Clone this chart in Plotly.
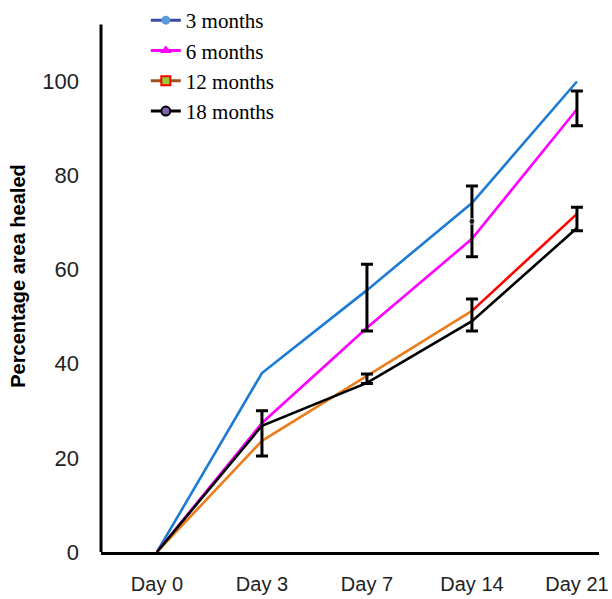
import plotly.graph_objects as go

# Healing time points and mean percentage of wound area healed per age group
days = ["Day 0", "Day 3", "Day 7", "Day 14", "Day 21"]
months_3 = [0, 38.0, 55.6, 74.1, 99.9]
months_6 = [0, 27.4, 47.6, 66.5, 94.0]
months_12 = [0, 23.6, 37.4, 51.2, 71.8]
months_18 = [0, 26.8, 35.9, 49.0, 68.8]

# Error bars (centre and half-width) drawn at the time points
err_day_idx = [1, 2, 2, 3, 3, 4, 4]
err_centre = [25.2, 54.0, 36.8, 70.2, 50.3, 94.2, 70.7]
err_half = [4.8, 7.1, 1.0, 7.5, 3.4, 3.7, 2.5]

y_ticks = [0, 20, 40, 60, 80, 100]
y_axis_top = 112

xi = list(range(len(days)))
fig = go.Figure()

LW = 2.6
fig.add_trace(go.Scatter(x=xi, y=months_3, mode="lines",
                         line=dict(color="#1c7cd5", width=LW), showlegend=False))
fig.add_trace(go.Scatter(x=xi, y=months_6, mode="lines",
                         line=dict(color="#ff00ff", width=LW), showlegend=False))
# 12 months: orange up to Day 14, red for the last interval
fig.add_trace(go.Scatter(x=xi[:4], y=months_12[:4], mode="lines",
                         line=dict(color="#ec7d1c", width=LW), showlegend=False))
fig.add_trace(go.Scatter(x=xi[3:], y=months_12[3:], mode="lines",
                         line=dict(color="#ff0000", width=LW), showlegend=False))
fig.add_trace(go.Scatter(x=xi, y=months_18, mode="lines",
                         line=dict(color="#000000", width=LW), showlegend=False))

# Error bars
fig.add_trace(go.Scatter(
    x=err_day_idx, y=err_centre, mode="markers",
    marker=dict(size=[0, 0, 0, 6, 0, 0, 0], color="black"),
    error_y=dict(type="data", array=err_half, visible=True,
                 color="black", thickness=3, width=6),
    showlegend=False))

# Legend entries
legend_items = [
    ("3 months", "#3a4aa8", dict(symbol="circle", size=9, color="#5b9bd5",
                                 line=dict(width=0))),
    ("6 months", "#ff00ff", dict(symbol="triangle-up", size=10, color="#ff00ff",
                                 line=dict(width=0))),
    ("12 months", "#a0521c", dict(symbol="square", size=9, color="#9acd32",
                                  line=dict(width=2, color="#ff0000"))),
    ("18 months", "#000000", dict(symbol="circle", size=9, color="#8060b0",
                                  line=dict(width=2, color="#000000"))),
]
for name, lc, mk in legend_items:
    fig.add_trace(go.Scatter(x=[None], y=[None], mode="lines+markers", name=name,
                             line=dict(color=lc, width=3), marker=mk))

# Vertical axis line stops a little below the top of the plotting area
fig.add_shape(type="line", xref="paper", yref="y", x0=0, x1=0,
              y0=0, y1=y_axis_top, line=dict(color="black", width=3))

fig.update_layout(
    width=612, height=599,
    margin=dict(l=101, r=13, t=0, b=47),
    paper_bgcolor="white", plot_bgcolor="white",
    showlegend=True,
    legend=dict(x=0.09, y=1.0, xanchor="left", yanchor="top",
                font=dict(family="Liberation Serif", size=21, color="black"),
                bgcolor="rgba(0,0,0,0)", itemwidth=30, tracegroupgap=0),
    xaxis=dict(range=[-0.533, 4.21], tickmode="array", tickvals=xi, ticktext=days,
               showgrid=False, zeroline=False, showline=True, linecolor="black",
               linewidth=3, ticks="", ticklabelstandoff=12, automargin=False,
               tickfont=dict(family="Liberation Sans", size=20, color="#222222")),
    yaxis=dict(range=[0, 117.2], tickmode="array", tickvals=y_ticks,
               showgrid=False, zeroline=False, showline=False,
               ticks="", ticklabelstandoff=21, automargin=False,
               tickfont=dict(family="Liberation Sans", size=22, color="#222222"),
               title=dict(text="<b>Percentage area healed</b>", standoff=11,
                          font=dict(family="Liberation Sans", size=20, color="black"))),
)

fig.write_html("out.html")
